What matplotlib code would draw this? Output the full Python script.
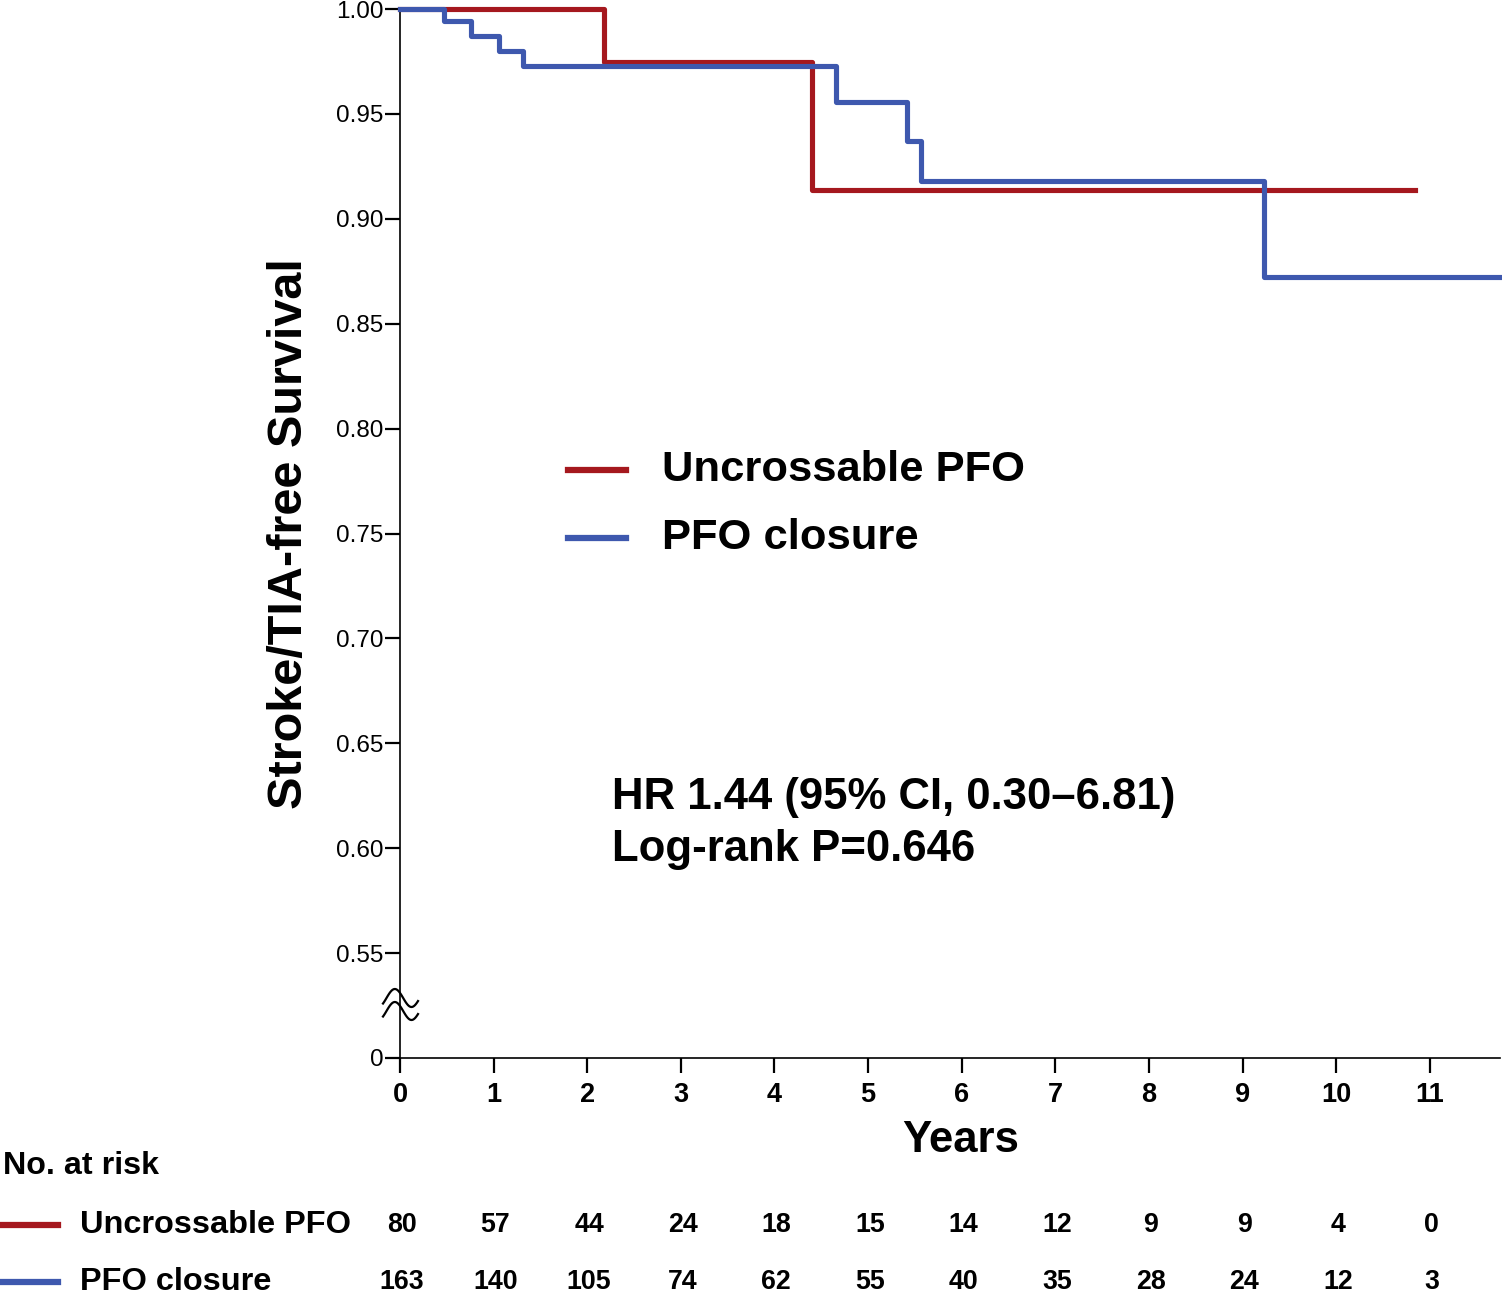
import numpy as np
import matplotlib
matplotlib.use('Agg')
import matplotlib.pyplot as plt
import matplotlib.transforms as mtransforms
from matplotlib.lines import Line2D

plt.rcParams['font.family'] = ['Liberation Sans', 'DejaVu Sans']

# survival curves (step, post)
red_t = [0, 2.18, 4.40, 10.84]
red_s = [1.0, 0.9747, 0.9137, 0.9137]
blue_t = [0, 0.47, 0.76, 1.06, 1.31, 4.66, 5.42, 5.57, 9.23, 11.75]
blue_s = [1.0, 0.9943, 0.987, 0.980, 0.9728, 0.9557, 0.937, 0.918, 0.8723, 0.8723]

groups = ['Uncrossable PFO', 'PFO closure']
risk_years = list(range(12))
risk_red = [80, 57, 44, 24, 18, 15, 14, 12, 9, 9, 4, 0]
risk_blue = [163, 140, 105, 74, 62, 55, 40, 35, 28, 24, 12, 3]

yticks = [0.50, 0.55, 0.60, 0.65, 0.70, 0.75, 0.80, 0.85, 0.90, 0.95, 1.00]
ytick_labels = ['0', '0.55', '0.60', '0.65', '0.70', '0.75', '0.80', '0.85', '0.90', '0.95', '1.00']

red = '#a5181e'
blue = '#3e58ae'

W, H = 1502, 1295
fig = plt.figure(figsize=(W / 100, H / 100), dpi=100)
ax = fig.add_axes([400 / W, 1 - 1058 / H, 1100 / W, 1049 / H])

ax.step(red_t, red_s, where='post', color=red, lw=3.7, clip_on=False, zorder=3)
ax.step(blue_t, blue_s, where='post', color=blue, lw=3.7, clip_on=False, zorder=3)

ax.set_xlim(0, 11.75)
ax.set_ylim(0.5, 1.0)
ax.spines['top'].set_visible(False)
ax.spines['right'].set_visible(False)
for s in ['left', 'bottom']:
    ax.spines[s].set_linewidth(1.2)

ax.set_xticks(risk_years)
ax.set_xticklabels([str(v) for v in risk_years], fontsize=19.5, fontweight='bold')
ax.set_yticks(yticks)
ax.set_yticklabels(ytick_labels, fontsize=17.5)
ax.tick_params(axis='x', length=11, width=1.6, pad=6)
ax.tick_params(axis='y', length=11, width=1.6, pad=1)

ax.set_ylabel('Stroke/TIA-free Survival', fontsize=35, fontweight='bold')
ax.yaxis.set_label_coords(-0.080, 0.5)
ax.set_xlabel('Years', fontsize=31.5, fontweight='bold')
ax.xaxis.set_label_coords(0.51, -0.059)

# axis break marks
tr = fig.transFigure
u = np.linspace(0, 1, 50)
for off in [0, 13]:
    xs = 383 + 35 * u
    ys = 998 + off - 9 * np.sin(2 * np.pi * (u - 0.1) * 1.05)
    fig.add_artist(Line2D(xs / W, 1 - ys / H, color='black', lw=1.6, transform=tr))

# legend
leg_items = [(470, red, groups[0]), (538, blue, groups[1])]
for yy, c, lab in leg_items:
    fig.add_artist(Line2D([568 / W, 626 / W], [1 - yy / H] * 2, color=c, lw=4.5, transform=tr))
    fig.text(662 / W, 1 - yy / H, lab, fontsize=31.3, fontweight='bold', va='center', ha='left')

fig.text(612 / W, 1 - 797 / H, 'HR 1.44 (95% CI, 0.30\u20136.81)', fontsize=31.5,
         fontweight='bold', va='center', ha='left')
fig.text(612 / W, 1 - 850 / H, 'Log-rank P=0.646', fontsize=31.5,
         fontweight='bold', va='center', ha='left')

# risk table
fig.text(3 / W, 1 - 1166 / H, 'No. at risk', fontsize=23.2, fontweight='bold', va='center', ha='left')
bt = mtransforms.blended_transform_factory(ax.transData, fig.transFigure)
rows = [(1225, red, groups[0], risk_red), (1282, blue, groups[1], risk_blue)]
for yy, c, lab, vals in rows:
    fig.add_artist(Line2D([3 / W, 58 / W], [1 - yy / H] * 2, color=c, lw=4.5, transform=tr))
    fig.text(80 / W, 1 - yy / H, lab, fontsize=23.4, fontweight='bold', va='center', ha='left')
    for x, v in zip(risk_years, vals):
        ax.text(x + 0.02, 1 - yy / H, str(v), transform=bt, fontsize=19.3, fontweight='bold',
                va='center', ha='center', clip_on=False)

fig.savefig('out.png', dpi=100)
